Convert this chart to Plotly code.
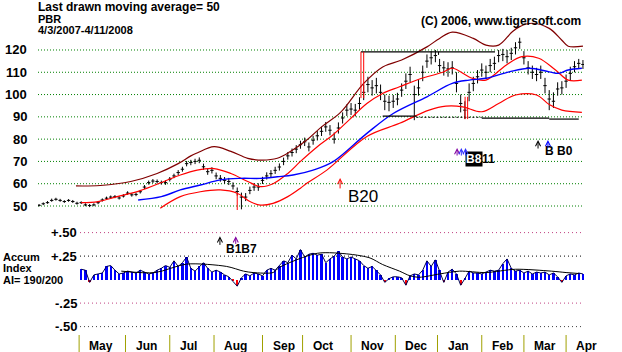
import plotly.graph_objects as go

# ---------------- data ----------------
# x = trading-day index (0 = 4/3/2007 ... 258 = 4/11/2008), sampled every 2 days
days = list(range(0, 259, 2))
close = [50.3, 51.0, 51.5, 52.5, 53.0, 52.5, 52.0, 52.5, 52.0, 51.2,
         51.5, 50.5, 50.2, 50.5, 51.5, 52.7, 53.5, 54.0, 54.2, 53.6,
         54.5, 55.8, 55.0, 55.2, 56.4, 58.5, 60.5, 61.2, 61.0, 60.5,
         60.5, 62.0, 63.5, 65.0, 66.5, 69.0, 69.5, 70.0, 70.5, 67.6,
         65.4, 66.0, 63.5, 62.4, 61.5, 61.0, 59.0, 56.5, 54.0, 54.0,
         57.0, 58.5, 58.5, 61.5, 63.5, 64.5, 66.0, 67.5, 70.0, 72.5,
         74.0, 75.5, 77.5, 78.8, 76.5, 79.5, 81.5, 83.5, 85.5, 84.0,
         80.0, 85.0, 89.5, 93.0, 93.5, 93.0, 96.0, 101.0, 104.5, 103.0,
         104.0, 101.0, 97.0, 96.5, 97.0, 98.0, 102.0, 106.0, 109.0, 100.0,
         103.0, 110.0, 115.0, 116.5, 117.5, 113.0, 112.0, 111.5, 112.0, 105.0,
         96.0, 93.0, 101.0, 105.0, 108.0, 111.0, 110.0, 113.0, 114.0, 117.5,
         118.0, 117.0, 118.5, 121.0, 123.5, 116.5, 112.0, 110.0, 109.0, 110.0,
         104.0, 98.0, 97.0, 102.5, 103.0, 106.0, 109.5, 112.5, 114.0, 113.5]
high = [50.9, 51.6, 52.2, 53.3, 53.7, 53.2, 52.6, 53.1, 52.7, 51.9,
        52.1, 51.2, 50.9, 51.2, 52.2, 53.4, 54.2, 54.7, 54.9, 54.4,
        55.3, 56.6, 55.8, 56.0, 57.2, 59.4, 61.4, 62.1, 61.9, 61.4,
        61.5, 63.0, 64.5, 66.1, 67.6, 70.2, 70.7, 71.2, 71.8, 69.0,
        66.8, 67.4, 65.0, 63.9, 63.0, 62.6, 60.6, 58.3, 56.0, 55.8,
        58.7, 60.2, 60.2, 63.1, 65.1, 66.1, 67.6, 69.1, 71.7, 74.2,
        75.8, 77.3, 79.3, 80.7, 78.5, 81.5, 83.6, 85.6, 87.7, 86.3,
        83.0, 87.5, 92.0, 95.6, 96.2, 95.8, 98.8, 104.5, 108.0, 106.5,
        107.5, 104.5, 100.0, 99.5, 99.8, 100.8, 105.0, 109.5, 112.5, 104.0,
        106.5, 113.0, 118.0, 119.5, 120.0, 116.0, 115.0, 114.5, 115.0, 110.0,
        100.0, 97.0, 105.0, 108.0, 111.0, 114.0, 113.0, 116.0, 117.0, 120.0,
        120.5, 120.0, 121.0, 123.5, 125.5, 119.5, 115.0, 113.0, 112.0, 113.0,
        107.5, 102.0, 101.0, 105.5, 106.0, 109.0, 112.5, 115.0, 116.0, 115.5]
low = [49.8, 50.4, 51.0, 51.9, 52.4, 51.9, 51.4, 51.9, 51.4, 50.6,
       50.9, 49.9, 49.5, 49.9, 50.8, 52.0, 52.8, 53.3, 53.5, 52.9,
       53.8, 55.0, 54.2, 54.4, 55.6, 57.6, 59.6, 60.3, 60.1, 59.6,
       59.5, 61.0, 62.5, 63.9, 65.4, 67.8, 68.3, 68.8, 69.2, 66.2,
       64.0, 64.6, 62.0, 60.9, 60.0, 59.4, 57.4, 54.7, 48.5, 52.2,
       55.3, 56.8, 56.8, 59.9, 61.9, 62.9, 64.4, 65.9, 68.3, 70.8,
       72.2, 73.7, 75.7, 76.9, 74.5, 77.5, 79.4, 81.4, 83.3, 81.7,
       78.0, 82.5, 87.0, 90.4, 90.8, 90.2, 93.2, 97.5, 101.0, 99.5,
       100.5, 97.5, 93.0, 92.5, 94.0, 95.2, 99.0, 102.5, 105.5, 88.5,
       99.5, 106.0, 112.0, 113.5, 114.5, 110.0, 108.5, 108.0, 109.0, 101.0,
       92.0, 89.0, 97.0, 101.5, 105.0, 108.0, 107.0, 110.0, 111.0, 114.5,
       115.0, 114.0, 115.5, 118.0, 120.5, 113.5, 109.0, 107.0, 106.0, 107.0,
       100.5, 93.0, 94.0, 99.5, 100.0, 103.0, 106.5, 110.0, 111.5, 111.5]

# Accumulation Index (same sampling; starts at day 20)
ai = [None, None, None, None, None, None, None, None, None, None,
      .11, .10, -.03, .05, .06, .07, .14, .15, .10, .06,
      .07, .09, .08, .07, .10, .08, .06, .07, .10, .12,
      .15, .13, .20, .14, .18, .24, .12, .09, .14, .18,
      .12, .08, .10, .08, .05, .03, -.02, -.07, .02, .06,
      .04, .07, .06, .04, .10, .12, .10, .15, .20, .18,
      .26, .22, .32, .24, .27, .28, .26, .27, .18, .22,
      .25, .30, .24, .22, .24, .22, .20, .15, .12, .14,
      .10, .05, -.03, .01, .03, .03, .02, -.06, .04, .06,
      .05, .10, .20, .14, .21, .10, -.03, .08, .11, .06,
      -.06, .01, .09, .07, .07, .06, .08, .10, .09, .10,
      .17, .22, .12, .09, .10, .07, .09, .06, .08, .07,
      .08, .05, .07, .03, -.03, .04, .06, .05, .07, .06]

ai_ma_d = [39, 55, 70, 89, 97, 101.5, 111, 114, 132, 147.5, 157, 163, 171, 176,
           180.5, 190, 199.5, 212, 226, 243, 250, 256]
ai_ma_v = [.09, .075, .165, .14, .09, .075, .075, .13, .28, .27, .23, .16, .09, .04,
           .025, .06, .09, .075, .11, .09, .075, .065]

brown_d = [17.5, 29, 43.5, 56, 66, 72, 75, 83, 91, 99, 106, 113, 119, 127, 134,
           143, 154, 163, 172, 184, 190, 196, 206, 212, 218, 224.5, 228, 234, 242,
           248, 251, 258]
brown_v = [59, 59.2, 61, 64.6, 69, 72.5, 73.8, 76.6, 74.5, 71.4, 70.6, 71.4, 74.3,
           79.6, 85.5, 92, 105, 112.4, 115.5, 121.4, 125.2, 128, 125.2, 122.2, 122.2,
           128.2, 130.5, 132, 129.7, 124.4, 121.7, 121.7]

red_up_d = [20, 28, 37, 48, 59, 67, 75, 83, 91, 99, 105, 111, 118, 124, 132,
            139.5, 147.5, 155.5, 163, 171, 180.5, 191.5, 196, 205.5, 212, 221.5,
            229, 237, 245, 251, 257.5]
red_up_v = [51.5, 52, 54.2, 56.9, 60.9, 63.9, 66.1, 66.8, 64.6, 61, 58.7, 60, 64.6,
            70, 76.6, 82, 89, 96, 100.5, 103.5, 107, 110, 111.8, 107.3, 106.5, 113.2,
            117, 116.3, 111, 106.5, 106.5]

ma50_d = [47, 58, 67, 76.5, 86, 95.5, 105, 113, 120.5, 130, 139.5, 155.5, 168,
          184, 196, 204, 212, 223, 232.5, 242, 246.5, 251, 257.5]
ma50_v = [52.7, 54.2, 57.2, 59.4, 61.7, 62.4, 62.4, 63.1, 63.9, 66.1, 69.9, 82.6,
          91.5, 99, 105, 106.5, 107.3, 110.2, 111.8, 110.2, 109.5, 111, 111.8]

red_lo_d = [57.5, 67, 76.5, 86, 94, 100, 105, 111, 118, 124, 127, 136.5, 155.5,
            171, 185, 193, 201, 210, 218, 226, 236, 242, 248, 257.5]
red_lo_v = [49, 54.2, 56.4, 57.2, 55.7, 52, 50.4, 51.2, 54.2, 58, 60.2, 66.1, 81.2,
            87.1, 93, 94.8, 94.5, 92.3, 96, 99.8, 99.8, 95.5, 93, 92]

months = ["May", "Jun", "Jul", "Aug", "Sep", "Oct", "Nov", "Dec", "Jan", "Feb", "Mar", "Apr"]
month_start = [19, 41, 62, 83, 106, 125, 148, 169, 189, 210, 230, 250]
price_ticks = [120, 110, 100, 90, 80, 70, 60, 50]
ai_ticks = [0.5, 0.25, -0.25, -0.5]
ai_tick_text = ["+.50", "+.25", "-.25", "-.50"]

# signal arrows: (day, value, axis, colour, length px)
arrows = [(142.8, 62.6, "y", "#ff0000", 12),
          (198.3, 76.0, "y", "#8000a0", 9),
          (200.3, 76.0, "y", "#3030ff", 9),
          (202.3, 76.0, "y", "#3030ff", 9),
          (236.7, 79.6, "y", "#000000", 10),
          (241.4, 79.6, "y", "#0000ff", 9),
          (85.8, 0.46, "y2", "#000000", 10),
          (93.3, 0.46, "y2", "#8000a0", 9)]

# ---------------- layout helpers ----------------
W, H = 622, 352
ML, MR = 38, 38
PW = W - ML - MR


def px(x):
    return (x - ML) / PW


def py(y):
    return 1 - y / H


FONT = "Liberation Sans, Arial, sans-serif"

fig = go.Figure()

# bands
fig.add_trace(go.Scatter(x=brown_d, y=brown_v, mode="lines",
                         line=dict(color="#800000", width=1.2, shape="spline", smoothing=1.0)))
fig.add_trace(go.Scatter(x=red_up_d, y=red_up_v, mode="lines",
                         line=dict(color="#ff0000", width=1.2, shape="spline", smoothing=1.0)))
fig.add_trace(go.Scatter(x=ma50_d, y=ma50_v, mode="lines",
                         line=dict(color="#0000ff", width=1.4, shape="spline", smoothing=1.0)))
fig.add_trace(go.Scatter(x=red_lo_d, y=red_lo_v, mode="lines",
                         line=dict(color="#ff0000", width=1.2, shape="spline", smoothing=1.0)))

# price bars
fig.add_trace(go.Ohlc(x=days, open=close, high=high, low=low, close=close,
                      increasing=dict(line=dict(color="black", width=1)),
                      decreasing=dict(line=dict(color="black", width=1)),
                      tickwidth=0.4, hoverinfo="skip"))

# accumulation index
ai_colors = ["#ff0000" if (v is not None and v < 0) else "#0000ff" for v in ai]
fig.add_trace(go.Bar(x=days, y=ai, marker=dict(color=ai_colors, line=dict(width=0)),
                     width=1.1, yaxis="y2"))
fig.add_trace(go.Scatter(x=days, y=ai, mode="lines", yaxis="y2",
                         line=dict(color="#000050", width=1)))
fig.add_trace(go.Scatter(x=ai_ma_d, y=ai_ma_v, mode="lines", yaxis="y2",
                         line=dict(color="black", width=1, shape="spline", smoothing=0.8)))

shapes = []
# price grid
for p in price_ticks:
    shapes.append(dict(type="line", xref="paper", yref="y", x0=0, x1=px(583), y0=p, y1=p,
                       line=dict(color="#008000", width=1, dash="1px,2px"), layer="below"))
# AI grid
ai_grid_colors = ["#c04080", "#000000", "#c04080", "#404040"]
for v, c in zip(ai_ticks, ai_grid_colors):
    shapes.append(dict(type="line", xref="paper", yref="y2", x0=px(80), x1=px(583), y0=v, y1=v,
                       line=dict(color=c, width=1, dash="1px,3px"), layer="below"))
# month separators
for m in month_start:
    shapes.append(dict(type="line", xref="x", yref="paper", x0=m, x1=m, y0=0, y1=py(335),
                       line=dict(color="#a0a000", width=1)))
# resistance / support lines
shapes.append(dict(type="line", xref="x", yref="y", x0=152.7, x1=216.3, y0=119.2, y1=119.2,
                   line=dict(color="black", width=1.2)))
shapes.append(dict(type="line", xref="x", yref="y", x0=189.5, x1=189.5, y0=119.2, y1=117.8,
                   line=dict(color="black", width=1)))
shapes.append(dict(type="line", xref="x", yref="y", x0=163, x1=179, y0=90.3, y1=90.3,
                   line=dict(color="black", width=1.2)))
shapes.append(dict(type="line", xref="x", yref="y", x0=179, x1=210, y0=89.8, y1=89.8,
                   line=dict(color="black", width=1, dash="2px,2px")))
shapes.append(dict(type="line", xref="x", yref="y", x0=210, x1=242, y0=89.4, y1=89.4,
                   line=dict(color="black", width=1.2)))
shapes.append(dict(type="line", xref="x", yref="y", x0=242, x1=256, y0=89.0, y1=89.0,
                   line=dict(color="black", width=1.2)))
# red markers
for xx in (152.7, 154.0):
    shapes.append(dict(type="line", xref="x", yref="y", x0=xx, x1=xx, y0=98.4, y1=119.2,
                       line=dict(color="#ff0000", width=1)))
for xx in (202.1, 203.3):
    shapes.append(dict(type="line", xref="x", yref="y", x0=xx, x1=xx, y0=89.0, y1=99.0,
                       line=dict(color="#ff0000", width=1)))
shapes.append(dict(type="line", xref="x", yref="y", x0=94, x1=94, y0=48.2, y1=55.8,
                   line=dict(color="#ff0000", width=1)))

ann = []


def txt(text, x, y, xref="paper", yref="paper", xanchor="left", size=12, color="black",
        bold=True, bg=None):
    ann.append(dict(text=("<b>%s</b>" % text) if bold else text, x=x, y=y, xref=xref, yref=yref,
                    xanchor=xanchor, yanchor="middle", showarrow=False,
                    font=dict(family=FONT, size=size, color=color),
                    bgcolor=bg, borderpad=0))


txt("Last drawn moving average= 50", px(37), py(7))
txt("PBR", px(37), py(18.5), size=11)
txt("4/3/2007-4/11/2008", px(37), py(30), size=11)
txt("(C) 2006, www.tigersoft.com", px(582), py(21), xanchor="right")
for p in price_ticks:
    txt(str(p), px(28), p, yref="y", xanchor="right", size=13)
for v, t in zip(ai_ticks, ai_tick_text):
    txt(t, px(78), v, yref="y2", xanchor="right", size=13)
txt("Accum", px(2), py(257), size=11)
txt("Index", px(2), py(268.2), size=11)
txt("AI= 190/200", px(2), py(279.6), size=11)
for m, name in zip(month_start, months):
    txt(name, m + 4.3, py(346), xref="x", size=12)

# signal labels
txt("B20", 146.0, 54.3, xref="x", yref="y", size=17, bold=False)
txt("B8", 202.0, 71.2, xref="x", yref="y", color="white", bg="black")
txt("11", 209.5, 71.2, xref="x", yref="y")
txt("B B0", 239.3, 74.9, xref="x", yref="y")
txt("B1B7", 88.0, 0.33, xref="x", yref="y2")

# signal arrows (drawn as annotation arrows)
for xd, yv, axis, col, ln in arrows:
    ann.append(dict(x=xd, y=yv, xref="x", yref=axis, text="", showarrow=True,
                    ax=0, ay=ln, axref="pixel", ayref="pixel",
                    arrowhead=5, arrowsize=1, arrowwidth=1, arrowcolor=col))

fig.update_layout(
    width=W, height=H,
    margin=dict(l=ML, r=MR, t=0, b=0),
    paper_bgcolor="white", plot_bgcolor="white",
    showlegend=False,
    xaxis=dict(range=[-0.5, 258.5], visible=False, rangeslider=dict(visible=False),
               fixedrange=True),
    yaxis=dict(domain=[py(215), py(14)], range=[45.96, 136.15], visible=False),
    yaxis2=dict(domain=[py(340), py(222)], range=[-0.6426, 0.6128], visible=False, anchor="x"),
    shapes=shapes, annotations=ann,
    bargap=0,
)

fig.write_html("out.html")
